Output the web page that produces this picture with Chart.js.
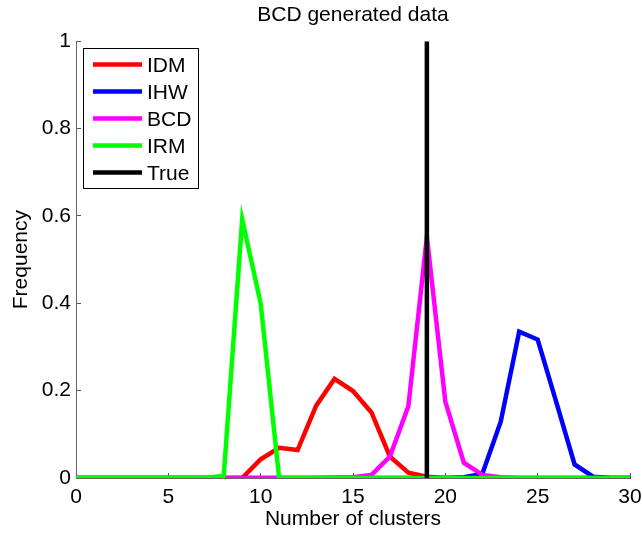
<!DOCTYPE html>
<html>
<head>
<meta charset="utf-8">
<title>BCD generated data</title>
<script src="https://cdn.jsdelivr.net/npm/chart.js@4.4.1/dist/chart.umd.min.js"></script>
<style>
  html, body { margin: 0; padding: 0; background: #fff; }
  canvas { display: block; }
</style>
</head>
<body>
<canvas id="bcdChart" width="643" height="534"></canvas>
<script>
// Number of clusters (x values)
const clusters = [0, 1, 2, 3, 4, 5, 6, 7, 8, 9, 10, 11, 12, 13, 14, 15,
                  16, 17, 18, 19, 20, 21, 22, 23, 24, 25, 26, 27, 28, 29, 30];

// Frequencies
const idm = [0, 0, 0, 0, 0, 0, 0, 0, 0, 0, 0.043, 0.069, 0.064, 0.165, 0.227, 0.199,
             0.150, 0.049, 0.012, 0.003, 0, 0, 0, 0, 0, 0, 0, 0, 0, 0, 0];
const ihw = [0, 0, 0, 0, 0, 0, 0, 0, 0, 0, 0, 0, 0, 0, 0, 0,
             0, 0, 0, 0, 0, 0.002, 0.009, 0.129, 0.335, 0.317, 0.175, 0.031, 0.003, 0, 0];
const bcd = [0, 0, 0, 0, 0, 0, 0, 0, 0, 0, 0, 0, 0, 0, 0.001, 0.002,
             0.007, 0.049, 0.165, 0.552, 0.175, 0.035, 0.007, 0.002, 0, 0, 0, 0, 0, 0, 0];
const irm = [0, 0, 0, 0, 0, 0, 0, 0, 0.005, 0.592, 0.400, 0, 0, 0, 0, 0,
             0, 0, 0, 0, 0, 0, 0, 0, 0, 0, 0, 0, 0, 0, 0];
const trueClusters = 19;

const xTicks = [0, 5, 10, 15, 20, 25, 30];
const yTicks = [0, 0.2, 0.4, 0.6, 0.8, 1];

const FONT = '"Liberation Sans", Arial, sans-serif';
Chart.defaults.font.family = FONT;
Chart.defaults.font.size = 21;
Chart.defaults.color = '#000';

function toPoints(values) {
    return clusters.map((c, i) => ({ x: c, y: values[i] }));
}

// Legend box in the top-left corner of the plot, like the MATLAB one
const legendBox = {
    id: 'legendBox',
    afterDraw(chart) {
        const { ctx, chartArea } = chart;
        const x = Math.round(chartArea.left) + 7;
        const y = Math.round(chartArea.top) + 7;
        const w = 115, h = 140;
        ctx.save();
        ctx.fillStyle = '#fff';
        ctx.fillRect(x, y, w, h);
        ctx.strokeStyle = '#000';
        ctx.lineWidth = 1;
        ctx.strokeRect(x + 0.5, y + 0.5, w, h);
        ctx.font = '21px ' + FONT;
        ctx.textBaseline = 'middle';
        chart.data.datasets.forEach((ds, i) => {
            const cy = y + 16.5 + i * 27;
            ctx.strokeStyle = ds.borderColor;
            ctx.lineWidth = 4.5;
            ctx.beginPath();
            ctx.moveTo(x + 10, cy);
            ctx.lineTo(x + 59, cy);
            ctx.stroke();
            ctx.fillStyle = '#000';
            ctx.fillText(ds.label, x + 64, cy + 1.5);
        });
        ctx.restore();
    }
};

const lineStyle = {
    borderWidth: 4.5,
    pointRadius: 0,
    tension: 0,
    fill: false
};

new Chart(document.getElementById('bcdChart'), {
    type: 'line',
    data: {
        datasets: [
            { label: 'IDM', data: toPoints(idm), borderColor: '#ff0000', order: 5, ...lineStyle },
            { label: 'IHW', data: toPoints(ihw), borderColor: '#0000ff', order: 4, ...lineStyle },
            { label: 'BCD', data: toPoints(bcd), borderColor: '#ff00ff', order: 3, ...lineStyle },
            { label: 'IRM', data: toPoints(irm), borderColor: '#00ff00', order: 2, ...lineStyle },
            {
                label: 'True',
                data: [{ x: trueClusters, y: 0 }, { x: trueClusters, y: 1 }],
                borderColor: '#000000',
                order: 1,
                ...lineStyle
            }
        ]
    },
    options: {
        responsive: false,
        animation: false,
        layout: {
            padding: { left: 0, right: 13, top: 0, bottom: 0 }
        },
        plugins: {
            legend: { display: false },
            tooltip: { enabled: false },
            title: {
                display: true,
                text: 'BCD generated data',
                fullSize: false,
                font: { size: 21, weight: 'normal' },
                color: '#000',
                padding: { top: 3, bottom: 13 }
            }
        },
        scales: {
            x: {
                type: 'linear',
                min: 0,
                max: 30,
                afterBuildTicks: axis => { axis.ticks = xTicks.map(v => ({ value: v })); },
                afterFit: scale => {
                    scale.height = 56;
                    scale.paddingLeft = 0;
                    scale.paddingRight = 0;
                },
                grid: { drawOnChartArea: false, drawTicks: true, tickLength: -5, color: '#555' },
                border: { display: true, color: '#666', width: 1 },
                ticks: { padding: 12, maxRotation: 0, autoSkip: false },
                title: {
                    display: true,
                    text: 'Number of clusters',
                    font: { size: 21 },
                    padding: { top: 0, bottom: 2 }
                }
            },
            y: {
                min: 0,
                max: 1,
                afterBuildTicks: axis => { axis.ticks = yTicks.map(v => ({ value: v })); },
                afterFit: scale => { scale.width = 76; },
                grid: { drawOnChartArea: false, drawTicks: true, tickLength: -5, color: '#555' },
                border: { display: true, color: '#666', width: 1 },
                ticks: { padding: 10, autoSkip: false, callback: v => String(v) },
                title: {
                    display: true,
                    text: 'Frequency',
                    font: { size: 21 },
                    padding: { top: 9, bottom: 0 }
                }
            }
        }
    },
    plugins: [legendBox]
});
</script>
</body>
</html>
